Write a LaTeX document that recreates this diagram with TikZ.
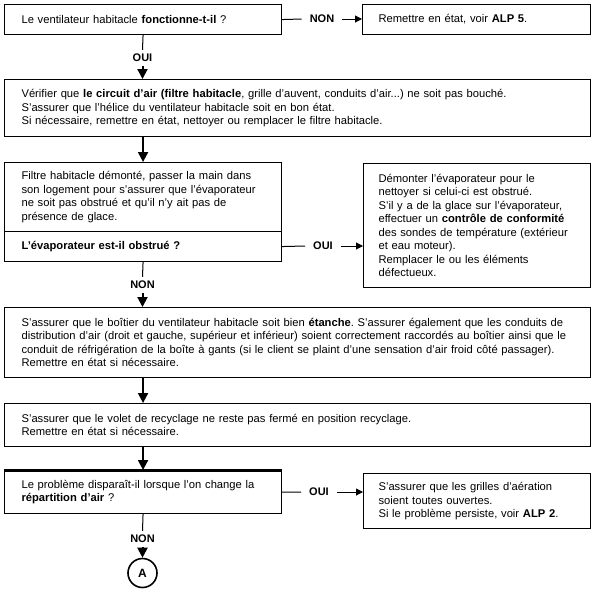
\documentclass[tikz,border=0pt]{standalone}
\usepackage{fontspec}
\setmainfont{Liberation Sans}
\usetikzlibrary{arrows.meta}
\frenchspacing
\begin{document}
\frenchspacing
\begin{tikzpicture}[x=1pt,y=-1pt,
  font=\fontsize{11.2}{13.5}\selectfont,
  box/.style={draw, line width=1.1pt, rectangle, inner xsep=17pt, inner ysep=0pt, align=left, anchor=north west},
  rbox/.style={box, inner xsep=15pt},
  hlab/.style={font=\bfseries\fontsize{11}{13}\selectfont, inner xsep=8pt, inner ysep=2pt},
  vlab/.style={font=\bfseries\fontsize{11}{13}\selectfont, inner xsep=2pt, inner ysep=4pt},
  thin/.style={line width=1pt},
  thinarrow/.style={line width=1pt, -{Triangle[length=7pt,width=7pt]}},
  flowarrow/.style={line width=2pt, -{Triangle[length=10pt,width=10pt]}},
]
\useasboundingbox (0,0) rectangle (596,592);

% boxes
\node[box, text width=243pt, minimum height=30pt] (b1) at (4,4)
  {Le ventilateur habitacle \textbf{fonctionne-t-il} ?};
\node[box, inner xsep=16pt, text width=196pt, minimum height=30pt] (b2) at (362,4)
  {Remettre en état, voir \textbf{ALP 5}.};
\node[box, text width=552pt, minimum height=57pt] (b3) at (4,79)
  {\mbox{Vérifier que \textbf{le circuit d'air (filtre habitacle}, grille d'auvent, conduits d'air...) ne soit pas bouché.}\\
   \mbox{S'assurer que l'hélice du ventilateur habitacle soit en bon état.}\\
   \mbox{Si nécessaire, remettre en état, nettoyer ou remplacer le filtre habitacle.}};
\node[box, text width=243pt, minimum height=69pt] (b4a) at (4,162)
  {\mbox{Filtre habitacle démonté, passer la main dans}\\
   \mbox{son logement pour s’assurer que l’évaporateur}\\
   \mbox{ne soit pas obstrué et qu’il n’y ait pas de}\\
   présence de glace.};
\node[box, text width=243pt, minimum height=30pt] (b4b) at (4,231)
  {\textbf{L'évaporateur est-il obstrué ?}};
\node[rbox, text width=197pt, minimum height=124pt] (b5) at (363,163)
  {\mbox{Démonter l’évaporateur pour le}\\
   \mbox{nettoyer si celui-ci est obstrué.}\\
   \mbox{S’il y a de la glace sur l’évaporateur,}\\
   \mbox{effectuer un \textbf{contrôle de conformité}}\\
   \mbox{des sondes de température (extérieur}\\
   \mbox{et eau moteur).}\\
   \mbox{Remplacer le ou les éléments}\\
   défectueux.\\[5pt]};
\node[box, text width=552pt, minimum height=70pt] (b6) at (4,307)
  {\mbox{S’assurer que le boîtier du ventilateur habitacle soit bien \textbf{étanche}. S’assurer également que les conduits de}\\
   \mbox{distribution d’air (droit et gauche, supérieur et inférieur) soient correctement raccordés au boîtier ainsi que le}\\
   \mbox{conduit de réfrigération de la boîte à gants (si le client se plaint d’une sensation d’air froid côté passager).}\\
   Remettre en état si nécessaire.};
\node[box, text width=552pt, minimum height=43pt] (b7) at (4,403)
  {\mbox{S'assurer que le volet de recyclage ne reste pas fermé en position recyclage.}\\
   Remettre en état si nécessaire.};
\node[box, text width=243pt, minimum height=43pt] (b8) at (4,470)
  {\mbox{Le problème disparaît-il lorsque l'on change la}\\
   \textbf{répartition d'air} ?};
\draw[line width=3pt] (b8.north west) -- (b8.north east);
\node[rbox, text width=197pt, minimum height=55pt] (b9) at (363,473)
  {\mbox{S'assurer que les grilles d'aération}\\
   \mbox{soient toutes ouvertes.}\\
   \mbox{Si le problème persiste, voir \textbf{ALP 2}.}};
\node[circle, draw, line width=1.6pt, minimum size=29pt, inner sep=0pt,
      font=\bfseries\fontsize{12}{14}\selectfont] (A) at (142.5,573) {A};

% labels
\node[hlab] (non1) at (322,19) {NON};
\node[vlab] (oui1) at (142.5,58) {OUI};
\node[hlab] (oui2) at (323,246) {OUI};
\node[vlab] (non2) at (142.5,285) {NON};
\node[hlab] (oui3) at (319,492) {OUI};
\node[vlab] (non3) at (142.5,539) {NON};

% connectors
\draw[thin] (b1.east) -- (non1.west);
\draw[thinarrow] (non1.east) -- (b2.west |- non1);
\draw[thin] (b1.south) -- (oui1.north);
\draw[flowarrow] (oui1.south) -- (b3.north -| oui1);
\draw[flowarrow] (b3.south -| b4a) -- (b4a.north);
\draw[thin] (b4b.east) -- (oui2.west);
\draw[thinarrow] (oui2.east) -- (b5.west |- oui2);
\draw[thin] (b4b.south) -- (non2.north);
\draw[flowarrow] (non2.south) -- (b6.north -| non2);
\draw[flowarrow] (b6.south -| b4b) -- (b7.north -| b4b);
\draw[flowarrow] (b7.south -| b8) -- (b8.north);
\draw[thin] (b8.east) -- (oui3.west);
\draw[thinarrow] (oui3.east) -- (b9.west |- oui3);
\draw[thin] (b8.south) -- (non3.north);
\draw[flowarrow] (non3.south) -- (A.north);
\end{tikzpicture}
\end{document}
